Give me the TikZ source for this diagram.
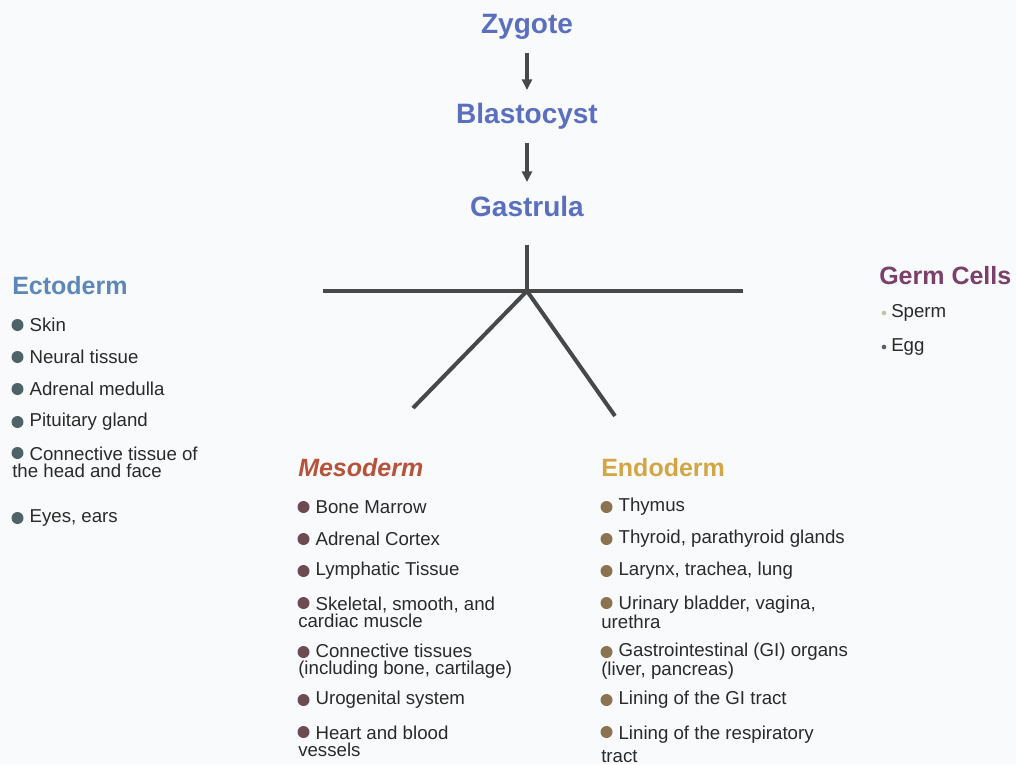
\documentclass[tikz,border=0pt]{standalone}
\usepackage{fontspec}
\setmainfont{Liberation Sans}
\usetikzlibrary{arrows.meta}
\definecolor{bg}{HTML}{F8FAFB}
\definecolor{ttl}{HTML}{5B6FBF}
\definecolor{ecto}{HTML}{5E87B9}
\definecolor{germ}{HTML}{7B3F6B}
\definecolor{meso}{HTML}{B5533B}
\definecolor{endo}{HTML}{D2A645}
\definecolor{txt}{HTML}{2A2A2A}
\definecolor{lin}{HTML}{484848}
\definecolor{bEcto}{HTML}{4E6366}
\definecolor{bMeso}{HTML}{6E4B50}
\definecolor{bEndo}{HTML}{8B7352}
\definecolor{bSperm}{HTML}{B9C9A2}
\newcommand\ind{\hspace*{13pt}}
\begin{document}
\begin{tikzpicture}[x=0.75pt,y=-0.75pt,
  title/.style={font=\fontsize{21}{25}\selectfont\bfseries, text=ttl, inner sep=0pt},
  head/.style={font=\fontsize{18.75}{22}\selectfont\bfseries, anchor=west, inner sep=0pt},
  itm/.style={font=\fontsize{14}{13}\selectfont, text=txt, anchor=west, align=left, inner sep=0pt},
  bul/.style={circle, inner sep=0pt, minimum size=9pt},
  sbul/.style={circle, inner sep=0pt, minimum size=3.5pt},
  arr/.style={draw=lin, line width=3pt, -{Triangle[width=7.5pt,length=8pt]}},
  ln/.style={draw=lin, line width=3pt}]
\fill[bg] (0,0) rectangle (1016,764);
\useasboundingbox (0,0) rectangle (1016,764);

% main chain
\node[title] (zyg) at (527,27) {Zygote};
\node[title] (bla) at (527,116) {Blastocyst};
\node[title] (gas) at (527,206) {Gastrula};
\draw[arr, shorten <=19.5pt, shorten >=19.5pt] (zyg.center) -- (bla.center);
\draw[arr, shorten <=20.25pt, shorten >=18pt] (bla.center) -- (gas.center);

% branching lines
\coordinate (J) at (527,291);
\coordinate (L) at (323,291);
\coordinate (R) at (743,291);
\coordinate (DL) at (413,408);
\coordinate (DR) at (615,416);
\draw[ln, shorten <=29pt] (gas.center) -- (J);
\draw[ln] (L) -- (R);
\draw[ln] (J) -- (DL);
\draw[ln] (J) -- (DR);

% Ectoderm
\node[head, text=ecto] (ecto) at (12,286) {Ectoderm};
\node[bul, fill=bEcto] (e1b) at (17.5,325) {};
\node[itm] (e1) at (12,325) {\ind Skin};
\node[bul, fill=bEcto] (e2b) at (17.5,357) {};
\node[itm] (e2) at (12,357) {\ind Neural tissue};
\node[bul, fill=bEcto] (e3b) at (17.5,389) {};
\node[itm] (e3) at (12,389) {\ind Adrenal medulla};
\node[bul, fill=bEcto] (e4b) at (17.5,422) {};
\node[itm] (e4) at (12,422) {\ind Pituitary gland};
\node[bul, fill=bEcto] (e5b) at (17.5,453) {};
\node[itm] (e5) at (12,462) {\ind Connective tissue of\\the head and face};
\node[bul, fill=bEcto] (e6b) at (17.5,518) {};
\node[itm] (e6) at (12,518) {\ind Eyes, ears};

% Germ cells
\node[head, text=germ] (germ) at (879,276) {Germ Cells};
\node[sbul, fill=bSperm] (g1b) at (884,313) {};
\node[itm, anchor=west] (g1) at (891,313) {Sperm};
\node[sbul, fill=bEcto] (g2b) at (884,347) {};
\node[itm, anchor=west] (g2) at (891,347) {Egg};

% Mesoderm
\node[head, text=meso, font=\fontsize{18.75}{22}\selectfont\bfseries\itshape] (meso) at (298,468) {Mesoderm};
\node[bul, fill=bMeso] (m1b) at (303.5,507) {};
\node[itm] (m1) at (298,507) {\ind Bone Marrow};
\node[bul, fill=bMeso] (m2b) at (303.5,539) {};
\node[itm] (m2) at (298,539) {\ind Adrenal Cortex};
\node[bul, fill=bMeso] (m3b) at (303.5,571) {};
\node[itm] (m3) at (298,571) {\ind Lymphatic Tissue};
\node[bul, fill=bMeso] (m4b) at (303.5,603) {};
\node[itm] (m4) at (298,612) {\ind Skeletal, smooth, and\\cardiac muscle};
\node[bul, fill=bMeso] (m5b) at (303.5,652) {};
\node[itm] (m5) at (298,661) {\ind Connective tissues\\(including bone, cartilage)};
\node[bul, fill=bMeso] (m6b) at (303.5,700) {};
\node[itm] (m6) at (298,700) {\ind Urogenital system};
\node[bul, fill=bMeso] (m7b) at (303.5,732) {};
\node[itm] (m7) at (298,741) {\ind Heart and blood\\vessels};

% Endoderm
\node[head, text=endo] (endo) at (601,468) {Endoderm};
\node[bul, fill=bEndo] (n1b) at (606.5,507) {};
\node[itm] (n1) at (601,507) {\ind Thymus};
\node[bul, fill=bEndo] (n2b) at (606.5,539) {};
\node[itm] (n2) at (601,539) {\ind Thyroid, parathyroid glands};
\node[bul, fill=bEndo] (n3b) at (606.5,571) {};
\node[itm] (n3) at (601,571) {\ind Larynx, trachea, lung};
\node[bul, fill=bEndo] (n4b) at (606.5,603) {};
\node[itm] (n4) at (601,612) {\ind Urinary bladder, vagina,\\urethra};
\node[bul, fill=bEndo] (n5b) at (606.5,652) {};
\node[itm] (n5) at (601,661) {\ind Gastrointestinal (GI) organs\\(liver, pancreas)};
\node[bul, fill=bEndo] (n6b) at (606.5,700) {};
\node[itm] (n6) at (601,700) {\ind Lining of the GI tract};
\node[bul, fill=bEndo] (n7b) at (606.5,732) {};
\node[itm] (n7) at (601,744) {\ind Lining of the respiratory\\[4pt]tract};
\end{tikzpicture}
\end{document}
